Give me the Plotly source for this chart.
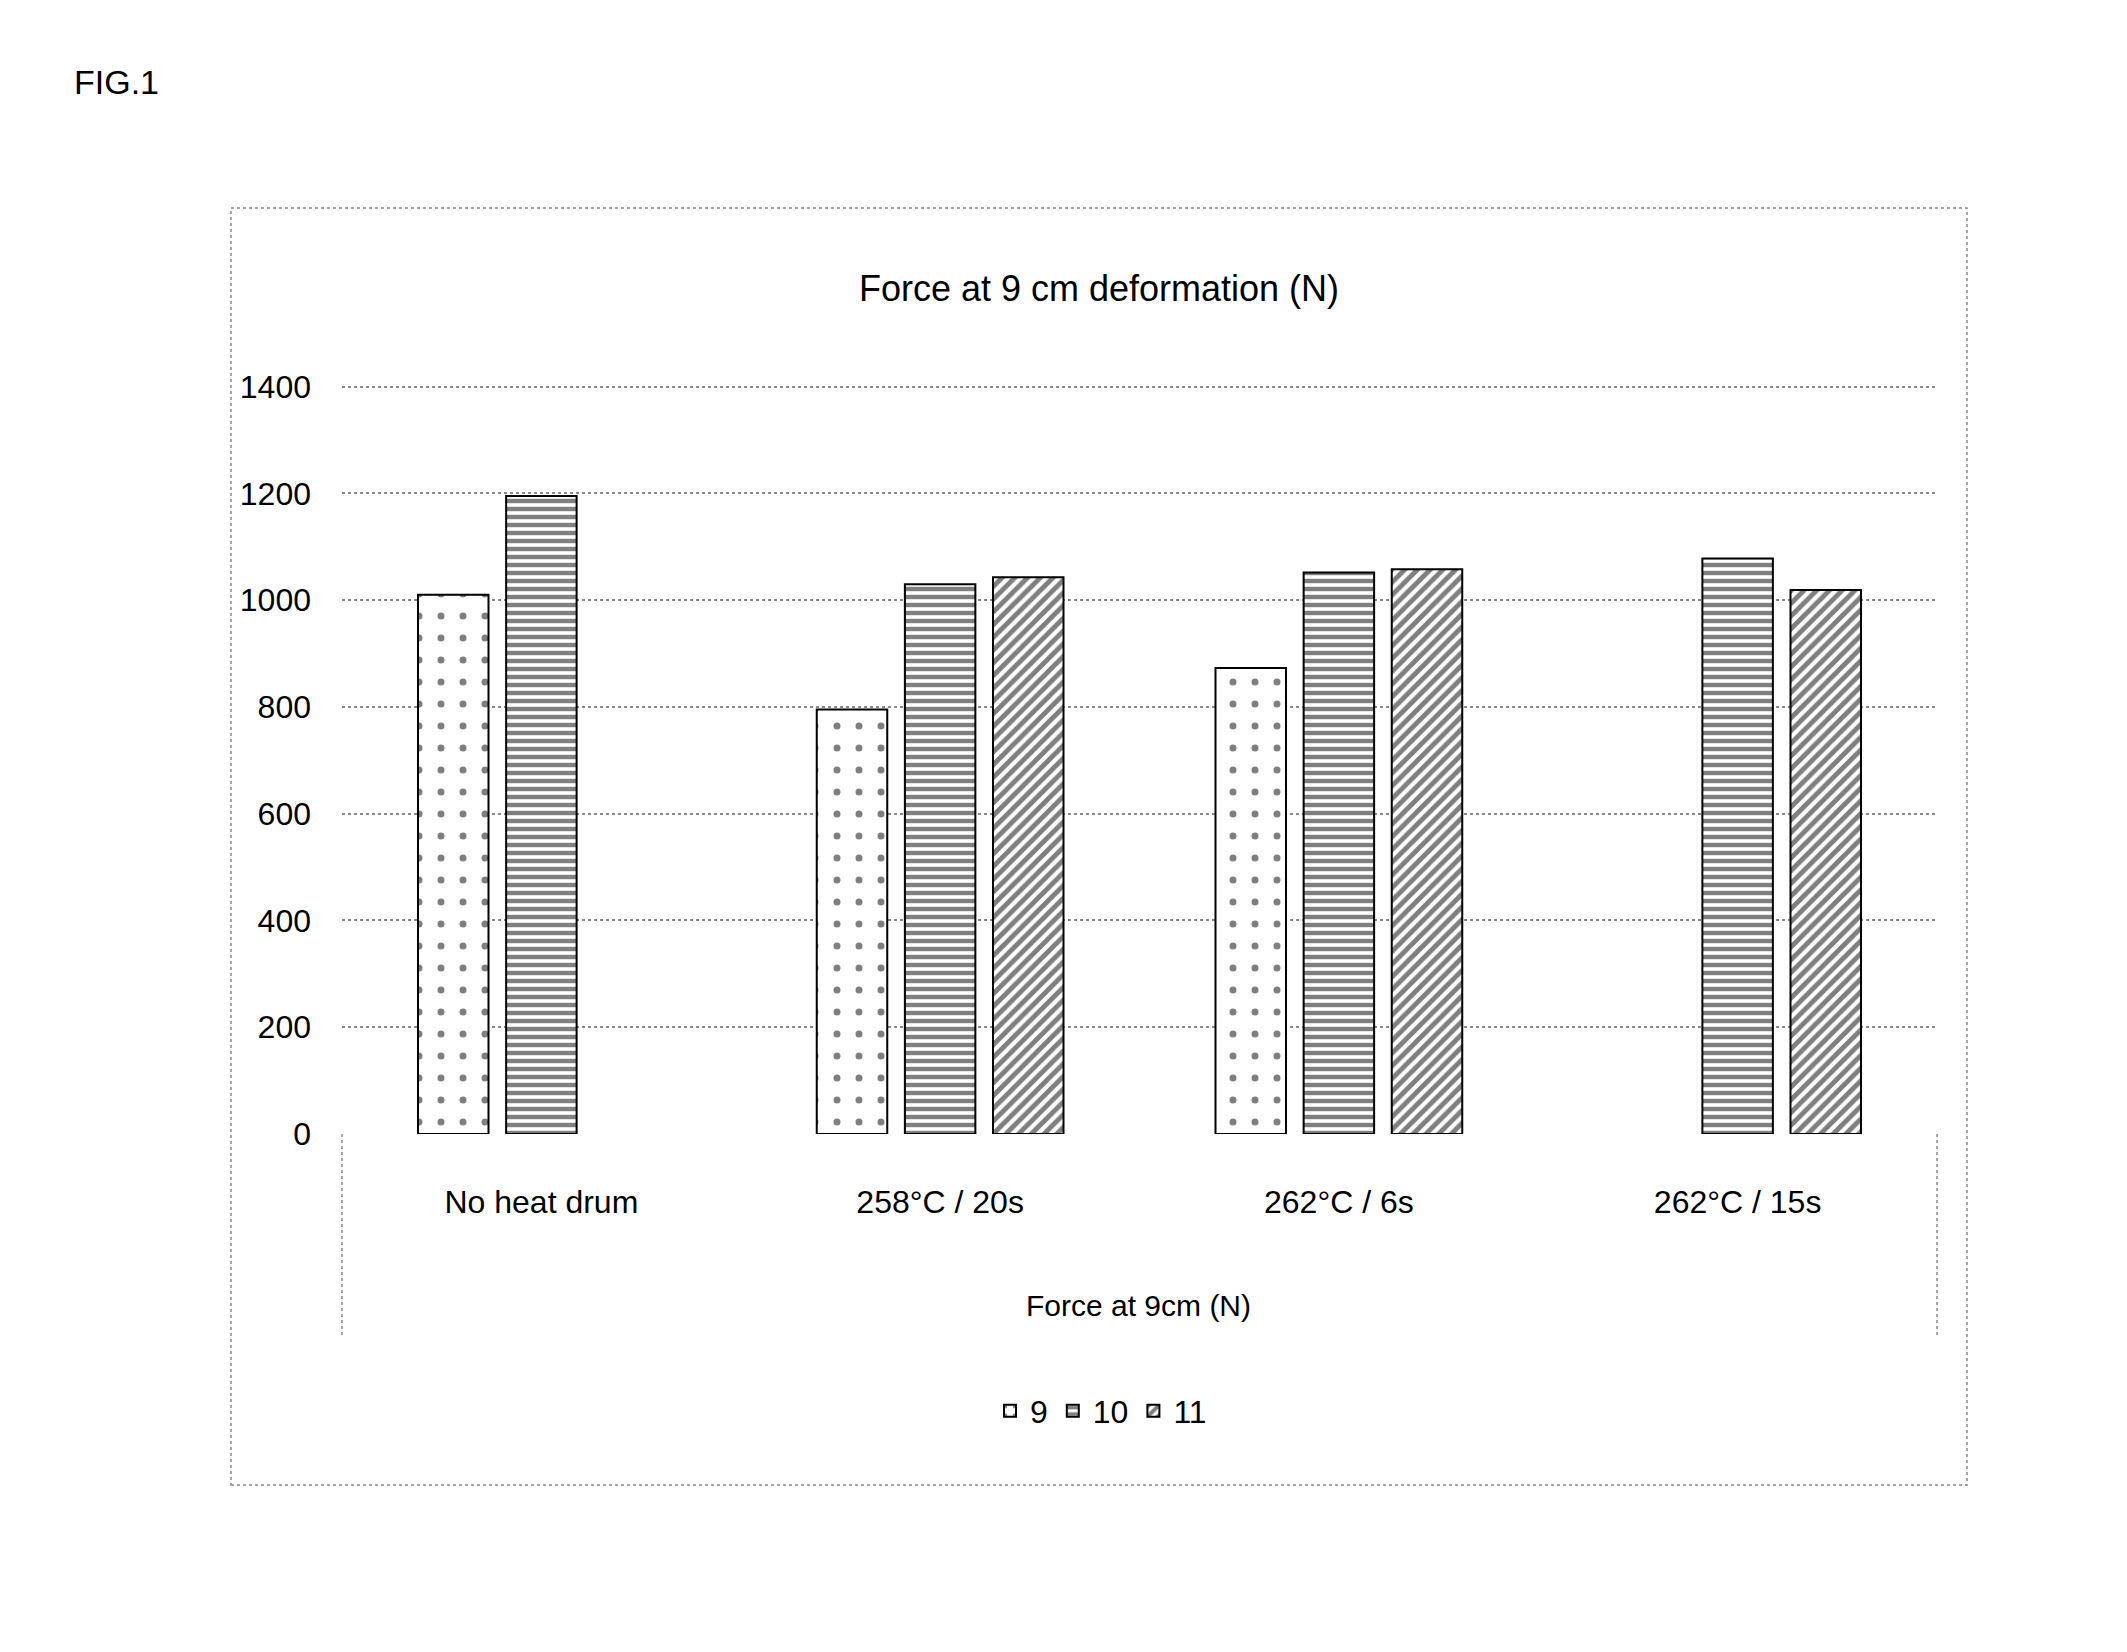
import plotly.graph_objects as go

categories = ["No heat drum", "258°C / 20s", "262°C / 6s", "262°C / 15s"]
series_names = ["9", "10", "11"]
values_9 = [1010, 795, 873, None]
values_10 = [1195, 1030, 1052, 1078]
values_11 = [None, 1043, 1058, 1019]
y_ticks = [0, 200, 400, 600, 800, 1000, 1200, 1400]

FONT = "Liberation Sans, Arial, sans-serif"
W, H = 2127, 1652
L, R, T, B = 342, 1937, 385, 1134  # plot area pixels


def px(x):
    return (x - L) / (R - L)


def py(y):
    return (B - y) / (B - T)


patterns = [
    dict(shape=".", size=22, solidity=0.08, fgcolor="black", bgcolor="white", fillmode="overlay"),
    dict(shape="-", size=8, solidity=0.55, fgcolor="black", bgcolor="white", fillmode="overlay"),
    dict(shape="/", size=9, solidity=0.55, fgcolor="black", bgcolor="white", fillmode="overlay"),
]

fig = go.Figure()
for name, vals, pat in zip(series_names, [values_9, values_10, values_11], patterns):
    fig.add_trace(go.Bar(
        x=categories, y=vals, name=name,
        marker=dict(color="white", pattern=pat, line=dict(color="black", width=2)),
    ))

dot = dict(color="#8a8a8a", width=1.5, dash="dot")
shapes = [
    dict(type="rect", xref="paper", yref="paper", x0=px(231), x1=px(1967), y0=py(1485), y1=py(208),
         line=dot, layer="below"),
    dict(type="line", xref="paper", yref="paper", x0=0, x1=0, y0=0, y1=py(1336), line=dot),
    dict(type="line", xref="paper", yref="paper", x0=1, x1=1, y0=0, y1=py(1336), line=dot),
]

fig.update_layout(
    width=W, height=H,
    margin=dict(l=L, r=W - R, t=T, b=H - B),
    paper_bgcolor="white", plot_bgcolor="white",
    barmode="group", bargap=0.337, bargroupgap=0.2,
    font=dict(family=FONT, color="black", size=32),
    title=dict(text="Force at 9 cm deformation (N)", x=1099 / W, xanchor="center",
               y=1 - 288 / H, yanchor="middle", yref="container",
               font=dict(family=FONT, size=36, color="black")),
    xaxis=dict(showline=False, showgrid=False, ticks="", ticklabelstandoff=46,
               tickfont=dict(family=FONT, size=32, color="black")),
    yaxis=dict(range=[0, 1403], tickvals=y_ticks, showgrid=True, gridcolor="#8a8a8a",
               griddash="dot", gridwidth=1.5, zeroline=False, showline=False, ticks="",
               ticklabelstandoff=30, tickfont=dict(family=FONT, size=32, color="black")),
    legend=dict(orientation="h", x=px(1101), xanchor="center", y=py(1411), yanchor="middle",
                font=dict(family=FONT, size=32, color="black"), itemwidth=30,
                traceorder="normal"),
    shapes=shapes,
    annotations=[
        dict(text="Force at 9cm (N)", xref="paper", yref="paper", x=px(1138), y=py(1305),
             xanchor="center", yanchor="middle", showarrow=False,
             font=dict(family=FONT, size=30, color="black")),
        dict(text="FIG.1", xref="paper", yref="paper", x=px(72), y=py(82),
             xanchor="left", yanchor="middle", showarrow=False,
             font=dict(family=FONT, size=34, color="black")),
    ],
)

fig.write_html("out.html")
